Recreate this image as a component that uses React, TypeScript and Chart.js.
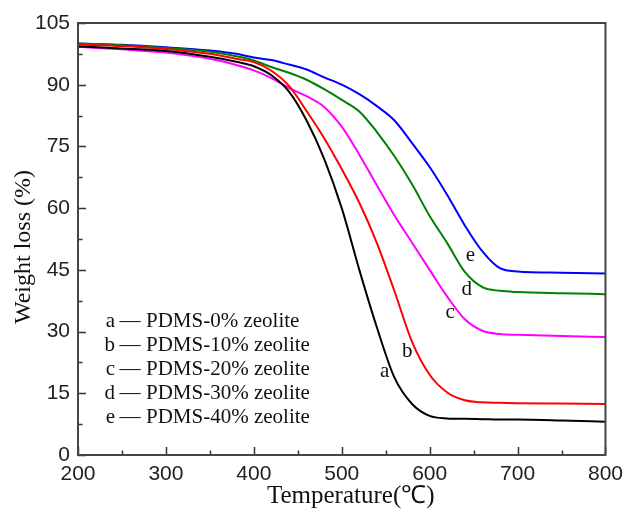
import React, { useEffect, useRef } from "react";
import { Chart, registerables } from "chart.js";

Chart.register(...registerables);

const temps = [200, 250, 300, 350, 380, 400, 420, 440, 460, 480, 500, 520, 540, 560, 580, 600, 620, 640, 660, 680, 700, 750, 800];
const seriesA = [99.3, 98.8, 98.2, 96.8, 95.6, 94.5, 92.3, 88.3, 81.3, 72.0, 60.0, 45.0, 31.0, 18.8, 12.4, 9.5, 8.9, 8.8, 8.7, 8.6, 8.6, 8.4, 8.1];
const seriesB = [99.8, 99.4, 98.7, 97.5, 96.3, 95.5, 93.4, 89.7, 83.6, 77.0, 69.5, 61.3, 51.5, 39.8, 27.5, 19.5, 15.2, 13.3, 12.8, 12.7, 12.6, 12.5, 12.4];
const seriesC = [99.2, 98.6, 97.8, 96.3, 94.8, 93.5, 91.6, 89.2, 87.2, 84.6, 79.8, 73.0, 65.5, 58.2, 51.6, 45.0, 38.5, 33.0, 30.2, 29.4, 29.2, 28.9, 28.7];
const seriesD = [100.0, 99.6, 98.9, 98.0, 96.9, 95.9, 94.3, 92.9, 91.2, 88.9, 86.3, 83.5, 78.5, 72.6, 65.8, 58.1, 51.5, 44.5, 40.8, 39.9, 39.6, 39.3, 39.1];
const seriesE = [100.0, 99.7, 99.1, 98.3, 97.5, 96.6, 96.0, 94.9, 93.7, 91.8, 90.0, 87.7, 84.8, 81.3, 75.8, 70.0, 63.2, 55.8, 49.5, 45.4, 44.6, 44.3, 44.1];

const seriesKeys = ["a", "b", "c", "d", "e"];
const seriesNames = ["PDMS-0% zeolite", "PDMS-10% zeolite", "PDMS-20% zeolite", "PDMS-30% zeolite", "PDMS-40% zeolite"];
const seriesColors = ["#000000", "#ff0000", "#ff00ff", "#008000", "#0000ff"];
// curve-label anchor points (temperature, weight)
const labelTemps = [548.8, 574.4, 623.3, 642.1, 646.5];
const labelWeights = [20.4, 25.1, 34.6, 40.3, 48.6];

const xTicks = [200, 300, 400, 500, 600, 700, 800];
const yTicks = [0, 15, 30, 45, 60, 75, 90, 105];
const xTitle = "Temperature(\u2103)";
const yTitle = "Weight loss (%)";

const allSeries = [seriesA, seriesB, seriesC, seriesD, seriesE];

const serif = "'Liberation Serif', 'Times New Roman', serif";

const decorPlugin = {
  id: "decor",
  afterDatasetsDraw(chart: any) {
    const { ctx, chartArea } = chart;
    const xs = chart.scales.x;
    const ys = chart.scales.y;
    ctx.save();
    // inward ticks
    ctx.strokeStyle = "#333";
    ctx.lineWidth = 1.5;
    for (let v = 200; v <= 800; v += 50) {
      const px = Math.round(xs.getPixelForValue(v)) + 0.5;
      const len = v % 100 === 0 ? 8 : 4.5;
      ctx.beginPath();
      ctx.moveTo(px, chartArea.bottom);
      ctx.lineTo(px, chartArea.bottom - len);
      ctx.stroke();
    }
    for (let v = 0; v <= 105; v += 7.5) {
      const py = Math.round(ys.getPixelForValue(v)) + 0.5;
      const len = v % 15 === 0 ? 8 : 4.5;
      ctx.beginPath();
      ctx.moveTo(chartArea.left, py);
      ctx.lineTo(chartArea.left + len, py);
      ctx.stroke();
    }
    // frame
    ctx.lineWidth = 2;
    ctx.strokeStyle = "#444";
    ctx.strokeRect(chartArea.left, chartArea.top, chartArea.right - chartArea.left, chartArea.bottom - chartArea.top);

    // curve letters
    ctx.fillStyle = "#111";
    ctx.font = "21px " + serif;
    ctx.textAlign = "center";
    ctx.textBaseline = "middle";
    for (let i = 0; i < seriesKeys.length; i++) {
      ctx.fillText(seriesKeys[i], xs.getPixelForValue(labelTemps[i]), ys.getPixelForValue(labelWeights[i]));
    }

    // legend text block
    const lx = chartArea.left + 37;
    const ly0 = chartArea.top + 303.5;
    ctx.textBaseline = "alphabetic";
    for (let i = 0; i < seriesKeys.length; i++) {
      const y = ly0 + i * 24;
      ctx.textAlign = "right";
      ctx.fillText(seriesKeys[i], lx, y);
      ctx.textAlign = "left";
      ctx.fillText("\u2014", lx + 4.5, y);
      ctx.fillText(seriesNames[i], lx + 31, y);
    }

    // axis titles
    ctx.fillStyle = "#111";
    ctx.font = "25px " + serif;
    ctx.textAlign = "center";
    ctx.textBaseline = "alphabetic";
    ctx.fillText(xTitle, (chartArea.left + chartArea.right) / 2 + 9, 503);
    ctx.font = "24px " + serif;
    ctx.translate(30, (chartArea.top + chartArea.bottom) / 2 + 8);
    ctx.rotate(-Math.PI / 2);
    ctx.fillText(yTitle, 0, 0);
    ctx.restore();
  },
};

export default function App() {
  const canvasRef = useRef<HTMLCanvasElement | null>(null);

  useEffect(() => {
    document.body.style.margin = "0";
    const canvas = canvasRef.current;
    if (!canvas) return;
    const datasets = allSeries.map((s, i) => ({
      label: seriesNames[i],
      data: temps.map((t, j) => ({ x: t, y: s[j] })),
      borderColor: seriesColors[i],
      backgroundColor: seriesColors[i],
      borderWidth: 2,
      pointRadius: 0,
      cubicInterpolationMode: "monotone" as const,
      fill: false,
    }));
    const chart = new Chart(canvas, {
      type: "line",
      data: { datasets },
      options: {
        animation: false,
        responsive: false,
        maintainAspectRatio: false,
        layout: { padding: { left: 0, right: 20, top: 23, bottom: 0 } },
        plugins: { legend: { display: false }, tooltip: { enabled: false } },
        scales: {
          x: {
            type: "linear",
            min: 200,
            max: 800,
            afterFit: (s: any) => { s.height = 58; },
            afterBuildTicks: (s: any) => { s.ticks = xTicks.map((v) => ({ value: v })); },
            grid: { display: false, drawTicks: false },
            border: { display: false },
            ticks: {
              color: "#222",
              padding: 7,
              maxRotation: 0,
              font: { family: "'Liberation Sans', Arial, sans-serif", size: 21 },
            },
          },
          y: {
            type: "linear",
            min: 0,
            max: 105,
            afterFit: (s: any) => { s.width = 78; },
            afterBuildTicks: (s: any) => { s.ticks = yTicks.map((v) => ({ value: v })); },
            grid: { display: false, drawTicks: false },
            border: { display: false },
            ticks: {
              color: "#222",
              padding: 8,
              font: { family: "'Liberation Sans', Arial, sans-serif", size: 21 },
            },
          },
        },
      },
      plugins: [decorPlugin],
    });
    return () => chart.destroy();
  }, []);

  return (
    <div style={{ width: 630, height: 513, background: "#fff" }}>
      <canvas ref={canvasRef} width={630} height={513} />
    </div>
  );
}
